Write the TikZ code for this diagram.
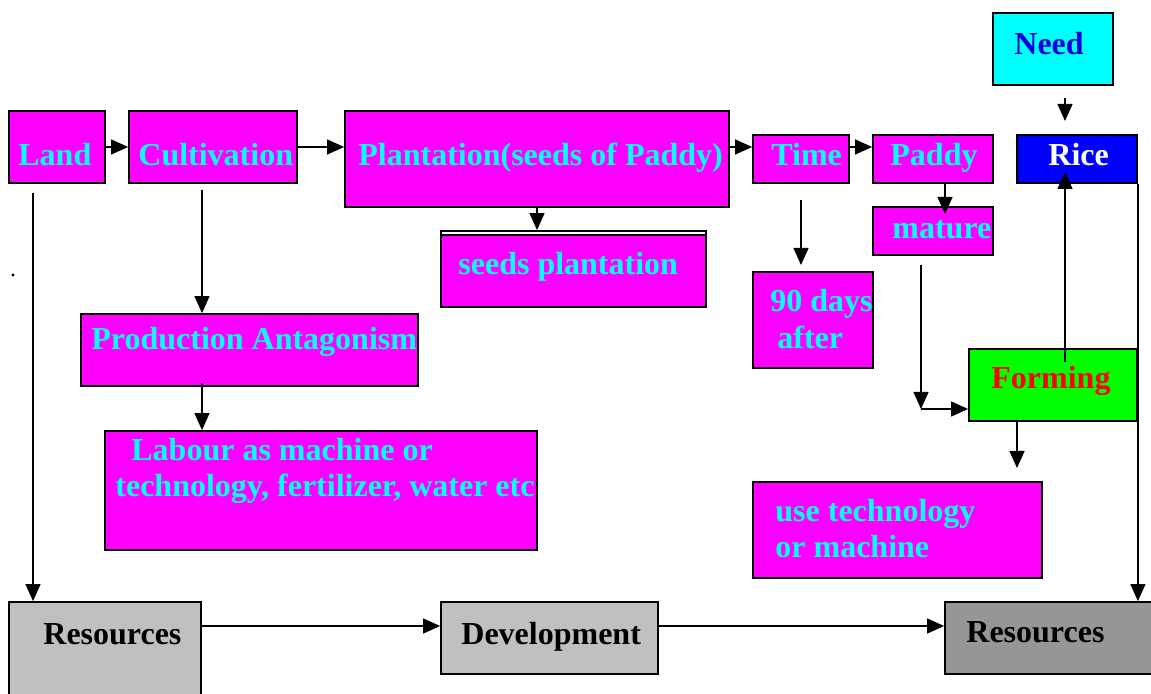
\documentclass[tikz,border=0pt]{standalone}
\usepackage{fontspec}
\setmainfont{Liberation Serif}
\usetikzlibrary{arrows.meta,fit}
\definecolor{pinkbox}{HTML}{FF00FF}
\definecolor{cyanbox}{HTML}{00FFFF}
\definecolor{ricebox}{HTML}{0000FF}
\definecolor{needtxt}{HTML}{0000E0}
\definecolor{formbox}{HTML}{00FF00}
\definecolor{formtxt}{HTML}{FF0000}
\definecolor{greybox}{HTML}{C0C0C0}
\definecolor{darkbox}{HTML}{969696}
\tikzset{
  box/.style={draw=black,line width=0.9pt,inner sep=0pt},
  txt/.style={anchor=base west,inner sep=0pt,text=cyanbox,
    font=\fontsize{16}{19}\selectfont\bfseries},
  arr/.style={-{Triangle[length=8.5pt,width=7.5pt]},line width=0.65pt},
}
% box: name, x1, y1, x2, y2, fill (pixels, y downwards)
\newcommand{\boxat}[6]{\node[box,fill=#6,fit={(#2,#3)(#4,#5)}] (#1) {};}
\begin{document}
\begin{tikzpicture}[x=0.5pt,y=-0.5pt]
    \useasboundingbox (0,0) rectangle (1151,694);
    %top row
    \boxat{land}{9}{111}{105}{183}{pinkbox}
    \boxat{cult}{129}{111}{297}{183}{pinkbox}
    \boxat{plant}{345}{111}{729}{207}{pinkbox}
    \boxat{time}{753}{135}{849}{183}{pinkbox}
    \boxat{paddy}{873}{135}{993}{183}{pinkbox}
    \boxat{need}{993}{13}{1113}{85}{cyanbox}
    \boxat{rice}{1017}{135}{1137}{183}{ricebox}
    %middle
    \boxat{seedsout}{441}{231}{706}{307}{white}
    \boxat{seeds}{441}{235}{706}{307}{pinkbox}
    \boxat{mature}{873}{207}{993}{255}{pinkbox}
    \boxat{days}{753}{272}{873}{368}{pinkbox}
    \boxat{form}{969}{349}{1137}{421}{formbox}
    \boxat{prod}{81}{314}{418}{386}{pinkbox}
    \boxat{labour}{105}{431}{537}{550}{pinkbox}
    \boxat{usetech}{753}{482}{1042}{578}{pinkbox}
    %bottom row
    \boxat{resL}{9}{602}{201}{710}{greybox}
    \boxat{dev}{441}{602}{658}{674}{greybox}
    \boxat{resR}{945}{602}{1160}{674}{darkbox}
    %texts
    \node[txt] (landt) at (18,166) {Land};
    \node[txt] (cultt) at (138,166) {Cultivation};
    \node[txt] (plantt) at (358,166) {Plantation(seeds of Paddy)};
    \node[txt] (timet) at (771,166) {Time};
    \node[txt] (paddyt) at (890,166) {Paddy};
    \node[txt,text=needtxt] (needt) at (1014,55) {Need};
    \node[txt,text=white] (ricet) at (1048,166) {Rice};
    \node[txt] (seedst) at (458,275) {seeds plantation};
    \node[txt] (maturet) at (892,239) {mature};
    \node[txt] (dayst) at (770,312) {90 days};
    \node[txt] (aftert) at (777,349) {after};
    \node[txt,text=formtxt] (formt) at (991,389) {Forming};
    \node[txt] (prodt) at (91,350) {Production Antagonism};
    \node[txt] (labt) at (131,461) {Labour as machine or};
    \node[txt] (techt) at (115,497) {technology, fertilizer, water etc};
    \node[txt] (uset) at (775,522) {use technology};
    \node[txt] (ort) at (775,558) {or machine};
    \node[txt,text=black] (resLt) at (43,645) {Resources};
    \node[txt,text=black] (devt) at (461,645) {Development};
    \node[txt,text=black] (resRt) at (966,642) {Resources};
    %free ends
    \coordinate (c1) at (202,190);
    \coordinate (c2) at (202,383);
    \coordinate (l1) at (33,193);
    \coordinate (t1) at (801,200);
    \coordinate (p1) at (945,214);
    \coordinate (m1) at (921,265);
    \coordinate (m2) at (921,409);
    \coordinate (n1) at (1065,98);
    \coordinate (n2) at (1065,121);
    \coordinate (f1) at (1065,362);
    \coordinate (f2) at (1065,172);
    \coordinate (f3) at (1017,468);
    \coordinate (r1) at (201,626);
    \coordinate (d1) at (658,626);
    %arrows of the top row
    \draw[arr] (land.east) -- (cult.west);
    \draw[arr] (cult.east) -- (cult.east -| plant.west);
    \draw[arr] (plant.east |- land.east) -- (time.west |- land.east);
    \draw[arr] (time.east |- land.east) -- (paddy.west |- land.east);
    \draw[arr] (plant.south) -- (plant.south |- seedsout.north);
    \draw[arr] (p1 |- paddy.south) -- (p1);
    \draw[arr] (t1) -- (t1 |- 0,265);
    \draw[arr] (m1) -- (m2);
    \draw[arr] (m2) -- (m2 -| form.west);
    \draw[arr] (n1) -- (n2);
    \draw[arr] (f1) -- (f2);
    \draw[arr] (rice.south east) -- (rice.south east |- resR.north);
    \draw[arr] (f3 |- form.south) -- (f3);
    %arrows on the left
    \draw[arr] (c1) -- (c1 |- prod.north);
    \draw[arr] (c2) -- (c2 |- labour.north);
    \draw[arr] (l1) -- (l1 |- resL.north);
    %bottom row
    \draw[arr] (r1) -- (r1 -| dev.west);
    \draw[arr] (d1) -- (d1 -| resR.west);
    \fill (13,275) circle (0.8pt);
\end{tikzpicture}
\end{document}
